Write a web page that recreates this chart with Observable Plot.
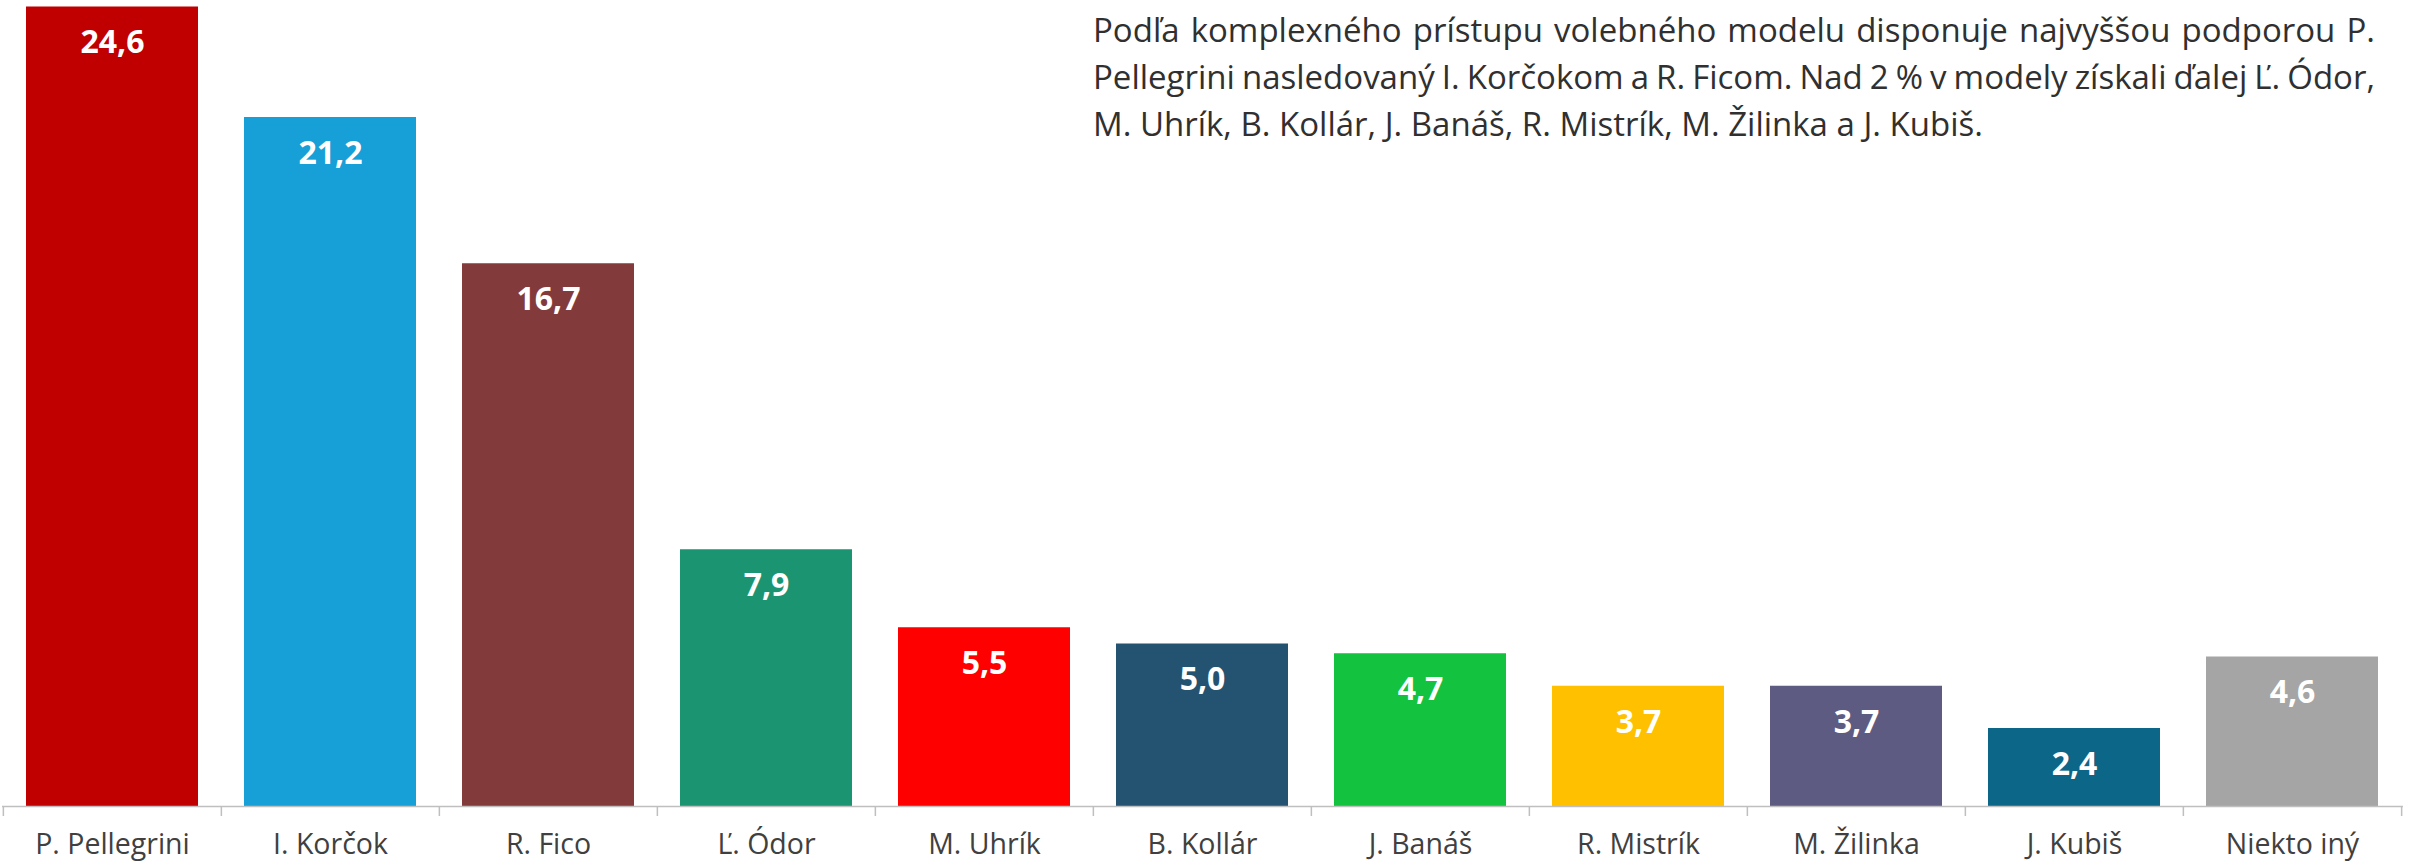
<!DOCTYPE html>
<html>
<head>
<meta charset="utf-8">
<script src="https://cdn.jsdelivr.net/npm/d3@7"></script>
<script src="https://cdn.jsdelivr.net/npm/@observablehq/plot@0.6"></script>
<style>
  html, body { margin: 0; padding: 0; background: #fff; }
  #wrap { position: relative; width: 2418px; height: 863px; font-family: "Open Sans", sans-serif; }
  #note { position: absolute; left: 1093px; top: 6px; width: 1282px; font-size: 33px; line-height: 47px; color: #303030; }
  #note div { white-space: nowrap; text-align: justify; }
  #note div.j { text-align-last: justify; }
  #note div.tight { word-spacing: -3px; }
</style>
</head>
<body>
<div id="wrap">
  <div id="chart"></div>
  <div id="note"></div>
</div>
<script>
const categories = ["P. Pellegrini", "I. Korčok", "R. Fico", "Ľ. Ódor", "M. Uhrík", "B. Kollár", "J. Banáš", "R. Mistrík", "M. Žilinka", "J. Kubiš", "Niekto iný"];
const values = [24.6, 21.2, 16.7, 7.9, 5.5, 5.0, 4.7, 3.7, 3.7, 2.4, 4.6];
const colors = ["#C00000", "#179FD7", "#833A3B", "#1B9571", "#FF0000", "#245372", "#13C23F", "#FFC000", "#5E5B83", "#0B6688", "#A5A5A5"];
const noteLines = [
  "Podľa komplexného prístupu volebného modelu disponuje najvyššou podporou P.",
  "Pellegrini nasledovaný I. Korčokom a R. Ficom. Nad 2 % v modely získali ďalej Ľ. Ódor,",
  "M. Uhrík, B. Kollár, J. Banáš, R. Mistrík, M. Žilinka a J. Kubiš."
];

const data = categories.map((name, i) => ({name, value: values[i]}));

const W = 2418, H = 863, mL = 2, mR = 15, mT = 0, mB = 57;
const step = (W - mL - mR) / categories.length;
const axisGray = "#BFBFBF";

const chart = Plot.plot({
  width: W, height: H,
  marginTop: mT, marginBottom: mB, marginLeft: mL, marginRight: mR,
  style: {fontFamily: "'Open Sans', sans-serif", color: "#404040", background: "transparent"},
  x: {domain: categories, paddingInner: 0.21, paddingOuter: 0.105, label: null},
  y: {domain: [0, 24.8], axis: null},
  color: {domain: categories, range: colors},
  marks: [
    Plot.barY(data, {x: "name", y: "value", fill: "name"}),
    Plot.ruleY([0], {stroke: axisGray, strokeWidth: 1.5}),
    Plot.axisX({tickSize: 10, tickFormat: () => "", dx: -step / 2, stroke: axisGray, strokeWidth: 1.5}),
    Plot.axisX([categories[categories.length - 1]], {tickSize: 10, tickFormat: () => "", dx: step / 2, stroke: axisGray, strokeWidth: 1.5}),
    Plot.axisX({tickSize: 0, tickPadding: 27, fontSize: 28.5, fill: "#404040"}),
    Plot.text(data, {x: "name", y: "value", text: d => d.value.toFixed(1).replace(".", ","), dy: 36, fill: "white", fontWeight: "bold", fontSize: 32, lineAnchor: "middle"})
  ]
});
document.getElementById("chart").appendChild(chart);

const note = document.getElementById("note");
noteLines.forEach((t, i) => {
  const d = document.createElement("div");
  d.textContent = t;
  if (i < noteLines.length - 1) d.className = "j";
  if (i === 1) d.className += " tight";
  note.appendChild(d);
});
</script>
</body>
</html>
